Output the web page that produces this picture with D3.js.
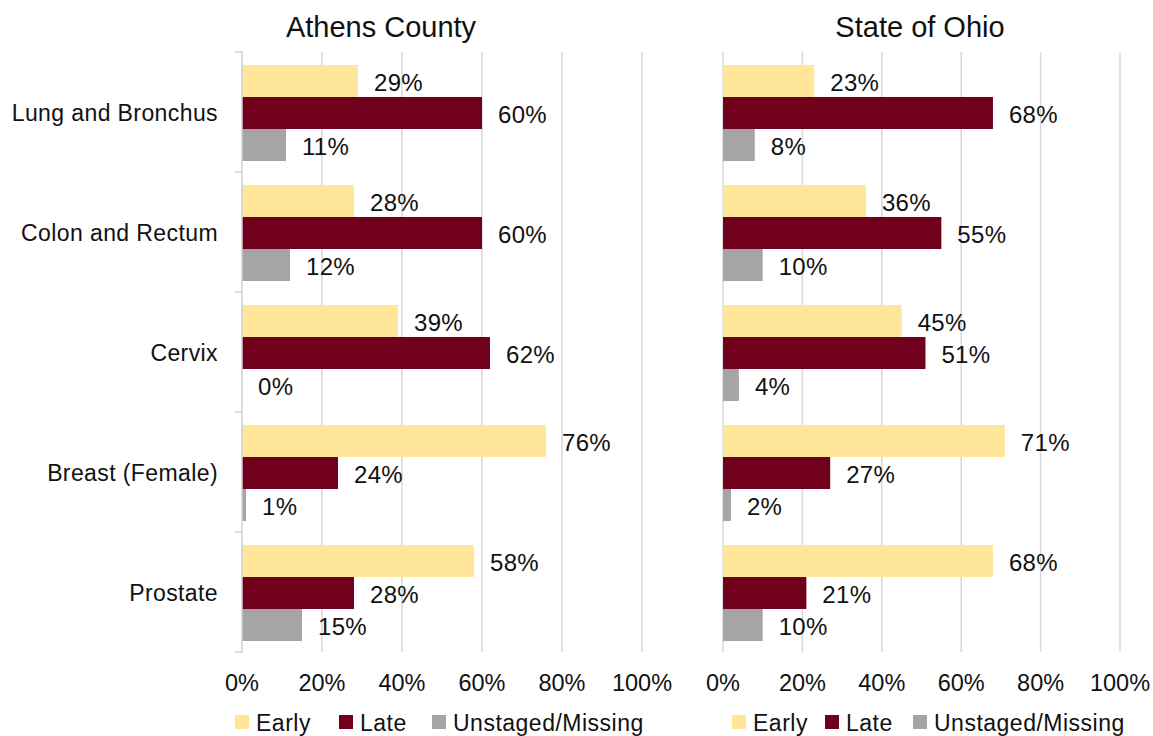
<!DOCTYPE html>
<html>
<head>
<meta charset="utf-8">
<script src="https://cdn.jsdelivr.net/npm/d3@7"></script>
<style>
  body { margin: 0; background: #fff; }
  text { font-family: "Liberation Sans", Arial, sans-serif; fill: #111; }
</style>
</head>
<body>
<div id="chart"></div>
<script>
const categories = ["Lung and Bronchus", "Colon and Rectum", "Cervix", "Breast (Female)", "Prostate"];
const series = ["Early", "Late", "Unstaged/Missing"];
const colors = ["#FFE699", "#70001C", "#A5A5A5"];
const ticks = [0, 20, 40, 60, 80, 100];

const athens = {
  Early: [29, 28, 39, 76, 58],
  Late: [60, 60, 62, 24, 28],
  "Unstaged/Missing": [11, 12, 0, 1, 15]
};
const ohio = {
  Early: [23, 36, 45, 71, 68],
  Late: [68, 55, 51, 27, 21],
  "Unstaged/Missing": [8, 10, 4, 2, 10]
};

const width = 1153, height = 736;
const svg = d3.select("#chart").append("svg")
    .attr("width", width)
    .attr("height", height);

const color = d3.scaleOrdinal().domain(series).range(colors);
const y0 = d3.scaleBand().domain(categories).range([52, 652]);
const y1 = d3.scaleBand().domain(series).range([13, 109]);

function panel(data, title, x0, x1, titleX, legendX, showCats) {
    const x = d3.scaleLinear().domain([0, 100]).range([x0, x1]);
    const g = svg.append("g");

    // gridlines
    g.selectAll("line.grid")
        .data(showCats ? ticks.slice(1) : ticks)
        .join("line")
        .attr("x1", d => x(d)).attr("x2", d => x(d))
        .attr("y1", 52).attr("y2", 652)
        .style("stroke", "#d9d9d9")
        .style("stroke-width", 1.5);

    // bars
    const rows = [];
    categories.forEach((c, i) => {
        series.forEach(s => rows.push({ cat: c, s: s, v: data[s][i] }));
    });

    g.selectAll("rect")
        .data(rows)
        .join("rect")
        .attr("x", x(0))
        .attr("y", d => y0(d.cat) + y1(d.s))
        .attr("width", d => x(d.v) - x(0))
        .attr("height", y1.bandwidth())
        .style("fill", d => color(d.s));

    g.selectAll("text.val")
        .data(rows)
        .join("text")
        .attr("x", d => x(d.v) + 16)
        .attr("y", d => y0(d.cat) + y1(d.s) + y1.bandwidth() / 2 + 10)
        .style("font-size", "24px")
        .style("letter-spacing", "0.3px")
        .text(d => d.v + "%");

    // category axis
    if (showCats) {
        g.append("line")
            .attr("x1", x(0)).attr("x2", x(0))
            .attr("y1", 52).attr("y2", 652)
            .style("stroke", "#d0d0d0")
            .style("stroke-width", 1.5);
        g.selectAll("line.tk")
            .data(d3.range(categories.length + 1))
            .join("line")
            .attr("x1", x(0) - 7).attr("x2", x(0))
            .attr("y1", i => 52 + i * y0.bandwidth())
            .attr("y2", i => 52 + i * y0.bandwidth())
            .style("stroke", "#d0d0d0")
            .style("stroke-width", 1.5);
        g.selectAll("text.cat")
            .data(categories)
            .join("text")
            .attr("x", x(0) - 24)
            .attr("y", d => y0(d) + y0.bandwidth() / 2 + 8.5)
            .attr("text-anchor", "end")
            .style("font-size", "23px")
            .style("letter-spacing", "0.4px")
            .text(d => d);
    }

    // x tick labels
    g.selectAll("text.tick")
        .data(ticks)
        .join("text")
        .attr("x", d => x(d))
        .attr("y", 691)
        .attr("text-anchor", "middle")
        .style("font-size", "23.5px")
        .text(d => d + "%");

    g.append("text")
        .attr("x", titleX)
        .attr("y", 37)
        .attr("text-anchor", "middle")
        .style("font-size", "29px")
        .text(title);

    // legend
    series.forEach((s, i) => {
        g.append("rect")
            .attr("x", legendX[i])
            .attr("y", 715)
            .attr("width", 14).attr("height", 14)
            .style("fill", color(s));
        g.append("text")
            .attr("x", legendX[i] + 21)
            .attr("y", 731)
            .style("font-size", "23px")
            .style("letter-spacing", "0.5px")
            .text(s);
    });
}

panel(athens, "Athens County", 242, 642, 381, [235, 339, 432], true);
panel(ohio, "State of Ohio", 723, 1120, 920, [732, 825, 913], false);
</script>
</body>
</html>
